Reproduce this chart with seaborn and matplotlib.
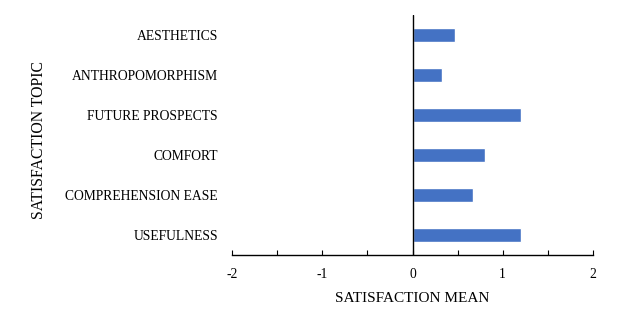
import matplotlib
matplotlib.use("Agg")
import matplotlib.pyplot as plt
from matplotlib.ticker import MultipleLocator
import seaborn as sns
import pandas as pd

topics = ["AESTHETICS", "ANTHROPOMORPHISM", "FUTURE PROSPECTS", "COMFORT",
          "COMPREHENSION EASE", "USEFULNESS"]
means = [0.47, 0.33, 1.20, 0.80, 0.67, 1.20]
x_ticks = [-2, -1, 0, 1, 2]

df = pd.DataFrame({"topic": topics, "mean": means})

sns.set_theme(style="white")
plt.rcParams["font.family"] = ["Liberation Serif", "DejaVu Serif"]

fig = plt.figure(figsize=(6.22, 3.16), dpi=100)
ax = fig.add_axes([0.373, 0.193, 0.5804, 0.7595])

sns.barplot(data=df, y="topic", x="mean", orient="h", color="#4472C4",
            width=0.36, saturation=1, ax=ax, order=topics)

ax.set_xlim(-2, 2)
ax.set_ylim(5.5, -0.5)
ax.set_xticks(x_ticks)
ax.set_xticklabels([str(v) for v in x_ticks])
ax.xaxis.set_minor_locator(MultipleLocator(0.5))

for s in ["top", "right", "left"]:
    ax.spines[s].set_visible(False)
ax.spines["bottom"].set_color("black")
ax.spines["bottom"].set_linewidth(1.0)
ax.axvline(0, color="black", linewidth=1.0)

ax.tick_params(axis="x", which="both", direction="in", length=3.5, width=0.8,
               color="black", bottom=True, labelsize=9.8, pad=9, labelcolor="black")
ax.tick_params(axis="y", length=0, labelsize=9.8, pad=10, labelcolor="black")

ax.set_xlabel("SATISFACTION MEAN", fontsize=11, labelpad=8, color="black")
ax.set_ylabel("SATISFACTION TOPIC", fontsize=11.3, color="black")
ax.yaxis.set_label_coords(-0.512, 0.479)

fig.savefig("out.png", dpi=100)
